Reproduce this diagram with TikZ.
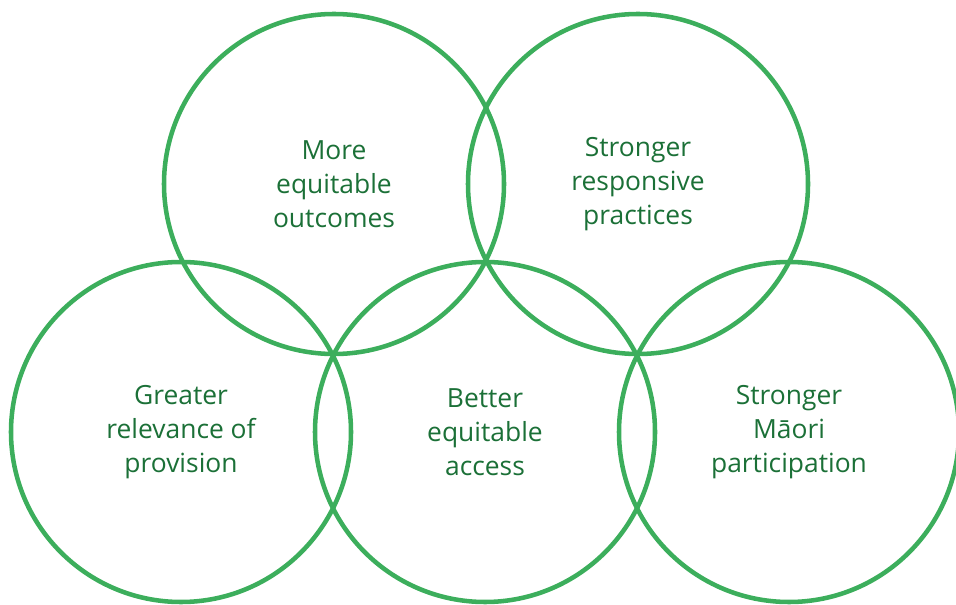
\documentclass[tikz,border=0pt]{standalone}
\usepackage{fontspec}
\setmainfont{Open Sans}
\usetikzlibrary{positioning}
\definecolor{ringgreen}{RGB}{60,174,92}
\definecolor{textgreen}{RGB}{27,112,55}

\begin{document}
\begin{tikzpicture}[x=0.75pt,y=-0.75pt,node distance=228pt,
		ring/.style={circle,draw=ringgreen,line width=3.4pt,minimum size=255pt,inner sep=0pt,
			align=center,text=textgreen,font=\fontsize{19.8}{25.5}\selectfont}]
		 \useasboundingbox (0,0) rectangle (956,605);

		 \node[ring]            (relevance)     at (181,432)              {Greater\\relevance of\\provision};
		 \node[ring]            (access)        [right of = relevance]    {Better\\equitable\\access};
		 \node[ring]            (maori)         [right of = access]       {Stronger\\Māori\\participation};
		 \node[ring]            (outcomes)      at (334,184)              {More\\equitable\\outcomes};
		 \node[ring]            (practices)     [right of = outcomes]     {Stronger\\responsive\\practices};
	\end{tikzpicture}
\end{document}
